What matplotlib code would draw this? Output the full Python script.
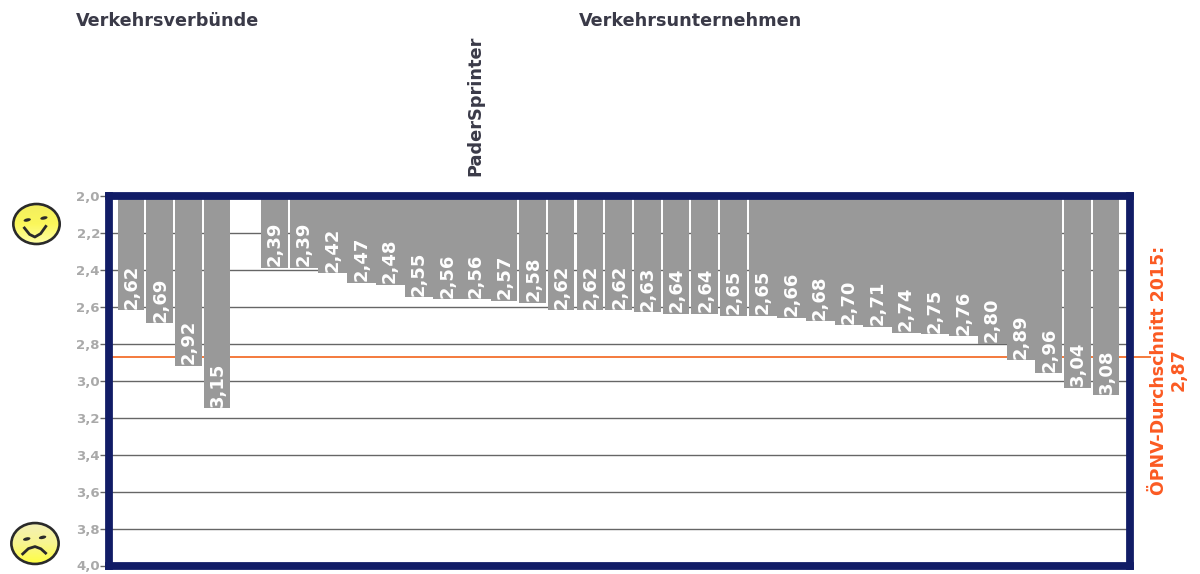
import numpy as np
import matplotlib
matplotlib.use('Agg')
import matplotlib.pyplot as plt
from matplotlib.patches import Ellipse
from matplotlib.transforms import blended_transform_factory

# Verkehrsverbuende, dann Luecke, dann Verkehrsunternehmen
verbuende = [2.62, 2.69, 2.92, 3.15]
unternehmen = [2.39, 2.39, 2.42, 2.47, 2.48, 2.55, 2.56, 2.56, 2.57, 2.58,
               2.62, 2.62, 2.62, 2.63, 2.64, 2.64, 2.65, 2.65, 2.66, 2.68,
               2.70, 2.71, 2.74, 2.75, 2.76, 2.80, 2.89, 2.96, 3.04, 3.08]
durchschnitt = 2.87
y_ticks = [2.0, 2.2, 2.4, 2.6, 2.8, 3.0, 3.2, 3.4, 3.6, 3.8, 4.0]
# Balken, die im Bild ohne weissen Spalt an den naechsten stossen (Index in unternehmen)
verbunden = [1, 2, 3, 4, 5, 6, 7, 17, 18, 19, 20, 21, 22, 23, 24, 25, 26]

W, H = 1200, 574
NAVY = '#111c66'
GREY = '#999999'
ORANGE = '#f47a3c'
RED = '#fb5a22'

plt.rcParams['font.family'] = ['DejaVu Sans']
fig = plt.figure(figsize=(W / 100, H / 100), dpi=100)


def px_axes(x0, y0, x1, y1):
    # Achse in Bildpixeln (y von oben) anlegen
    return fig.add_axes([x0 / W, 1 - y1 / H, (x1 - x0) / W, (y1 - y0) / H])


ax = px_axes(108.7, 195.8, 1130, 565.5)
pitch = 28.68
ax.set_xlim((108.7 - 131) / pitch, (1130 - 131) / pitch)
ax.set_ylim(4.0, 2.0)

x_v = list(range(len(verbuende)))
x_u = [i + len(verbuende) + 1 for i in range(len(unternehmen))]
bw = 0.925

ax.bar(x_v, [v - 2 for v in verbuende], bottom=2, width=bw, color=GREY, zorder=3)
for i, (x, v) in enumerate(zip(x_u, unternehmen)):
    w = 1.0 if i in verbunden else bw
    ax.bar(x - bw / 2, v - 2, bottom=2, width=w, align='edge', color=GREY, zorder=3)

for x, v in zip(x_v + x_u, verbuende + unternehmen):
    ax.annotate(f'{v:.2f}'.replace('.', ','), xy=(x, v), xytext=(0.5, 1.2),
                textcoords='offset points', rotation=90, ha='center', va='bottom',
                color='white', fontsize=13, fontweight='bold', zorder=4)

ax.set_yticks(y_ticks)
ax.set_yticklabels([f'{t:.1f}'.replace('.', ',') for t in y_ticks],
                   color='#a9a9a9', fontsize=9.5, fontweight='bold')
ax.tick_params(axis='y', length=6.3, width=1, color='#666666', pad=0)
ax.set_xticks([])
ax.grid(axis='y', color='#666666', lw=1, zorder=1)
ax.set_axisbelow(True)

# Durchschnittslinie laeuft ueber den Rahmen hinaus
trans = blended_transform_factory(fig.transFigure, ax.transData)
ax.plot([112 / W, 1150 / W], [durchschnitt, durchschnitt], transform=trans,
        color=ORANGE, lw=1.4, clip_on=False, zorder=2)

for s in ax.spines.values():
    s.set_color(NAVY)
    s.set_linewidth(5.6)
    s.set_zorder(6)

txt = dict(color='#3a3a48', fontweight='bold')
fig.text(76 / W, 1 - 21 / H, 'Verkehrsverbünde', ha='left', va='center', fontsize=12.7, **txt)
fig.text(579 / W, 1 - 21 / H, 'Verkehrsunternehmen', ha='left', va='center', fontsize=12.7, **txt)
ax.annotate('PaderSprinter', xy=(x_u[7], 1), xycoords=ax.get_xaxis_transform(),
            xytext=(0, 20 * 0.72), textcoords='offset points', rotation=90,
            ha='center', va='bottom', fontsize=12.8, annotation_clip=False, **txt)
fig.text(1169 / W, 1 - 370 / H, f'ÖPNV-Durchschnitt 2015:\n{durchschnitt:.2f}'.replace('2.87', '2,87'),
         rotation=90, ha='center', va='center', multialignment='center',
         color=RED, fontsize=12.5, fontweight='bold', linespacing=1.1)


def smiley(x0, y0, x1, y1, happy):
    a = px_axes(x0, y0, x1, y1)
    a.set_xlim(-1.1, 1.1)
    a.set_ylim(-1.1, 1.1)
    a.axis('off')
    grad = np.linspace(0, 1, 64).reshape(-1, 1)
    cols = ['#f3ee60', '#fbf75a', '#ffffa8'] if happy else ['#f3f0b8', '#f8f590', '#ffff40']
    cmap = matplotlib.colors.LinearSegmentedColormap.from_list('gelb', cols)
    im = a.imshow(grad, extent=(-1, 1, -1, 1), origin='upper', cmap=cmap, aspect='auto', zorder=1)
    el = Ellipse((0, 0), 2, 2, transform=a.transData, fc='none', ec='#2a2a2a', lw=1.9, zorder=2)
    a.add_patch(el)
    im.set_clip_path(el)
    if happy:
        mouth_x, mouth_y = [-0.52, -0.3, -0.07, 0.18, 0.4], [-0.2, -0.52, -0.65, -0.48, -0.12]
        eyes = [(-0.4, 0.2), (0.32, 0.3)]
    else:
        mouth_x, mouth_y = [-0.52, -0.28, 0.0, 0.25, 0.45], [-0.51, -0.25, -0.15, -0.26, -0.47]
        eyes = [(-0.35, 0.22), (0.32, 0.3)]
    a.plot(mouth_x, mouth_y, color='#2a2a2a', lw=2, zorder=3)
    for ex, ey in eyes:
        a.add_patch(Ellipse((ex, ey), 0.32, 0.16, angle=15, fc='#2a2a2a', ec='none', zorder=3))


smiley(11, 202, 62, 246, True)
smiley(9, 521, 61, 566, False)

fig.savefig('out.png', dpi=100)
